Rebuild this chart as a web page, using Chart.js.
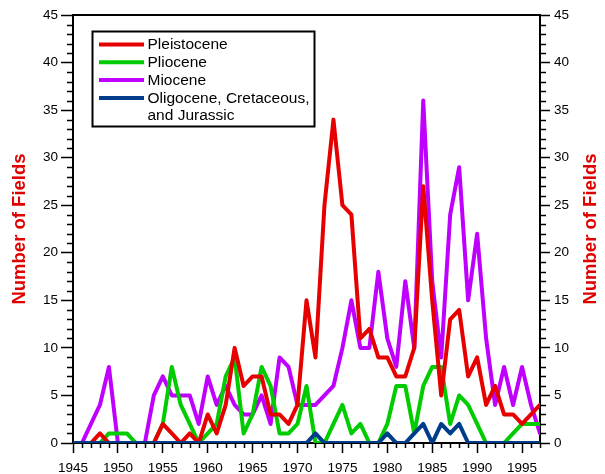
<!DOCTYPE html>
<html>
<head>
<meta charset="utf-8">
<script src="https://cdn.jsdelivr.net/npm/chart.js@4.4.1/dist/chart.umd.min.js"></script>
<style>
  html, body { margin: 0; padding: 0; background: #fff; }
  #wrap { width: 605px; height: 474px; }
</style>
</head>
<body>
<div id="wrap"><canvas id="fieldsChart" width="605" height="474"></canvas></div>
<script>
// ===== Data =====
const years = [1945, 1946, 1947, 1948, 1949, 1950, 1951, 1952, 1953, 1954,
               1955, 1956, 1957, 1958, 1959, 1960, 1961, 1962, 1963, 1964,
               1965, 1966, 1967, 1968, 1969, 1970, 1971, 1972, 1973, 1974,
               1975, 1976, 1977, 1978, 1979, 1980, 1981, 1982, 1983, 1984,
               1985, 1986, 1987, 1988, 1989, 1990, 1991, 1992, 1993, 1994,
               1995, 1996, 1997];

const pleistocene = [null, null, 0, 1, 0, 0, 0, 0, 0, 0,
                     2, 1, 0, 1, 0, 3, 1, 4, 10, 6,
                     7, 7, 3, 3, 2, 4, 15, 9, 25, 34,
                     25, 24, 11, 12, 9, 9, 7, 7, 10, 27,
                     15, 5, 13, 14, 7, 9, 4, 6, 3, 3,
                     2, 3, 4];

const pliocene = [null, null, null, 0, 1, 1, 1, 0, 0, 0,
                  2, 8, 4, 2, 0, 1, 2, 7, 9, 1,
                  3, 8, 6, 1, 1, 2, 6, 0, 0, 2,
                  4, 1, 2, 0, 0, 2, 6, 6, 1, 6,
                  8, 8, 2, 5, 4, 2, 0, 0, 0, 1,
                  2, 2, 2];

const miocene = [null, 0, 2, 4, 8, 0, 0, 0, 0, 5,
                 7, 5, 5, 5, 2, 7, 4, 6, 4, 3,
                 3, 5, 2, 9, 8, 4, 4, 4, 5, 6,
                 10, 15, 10, 10, 18, 11, 8, 17, 10, 36,
                 17, 9, 24, 29, 15, 22, 11, 4, 8, 4,
                 8, 4, 1];

const oligocene = [0, 0, 0, 0, 0, 0, 0, 0, 0, 0,
                   0, 0, 0, 0, 0, 0, 0, 0, 0, 0,
                   0, 0, 0, 0, 0, 0, 0, 1, 0, 0,
                   0, 0, 0, 0, 0, 1, 0, 0, 1, 2,
                   0, 2, 1, 2, 0, 0, 0, 0, 0, 0,
                   0, 0, 0];

const yTicks = [0, 5, 10, 15, 20, 25, 30, 35, 40, 45];
const xMin = 1945, xMax = 1997;

const FONT = "'Liberation Sans', Arial, Helvetica, sans-serif";

function toPoints(values) {
    return years.map((yr, i) => ({ x: yr, y: values[i] }));
}

// Extra drawing: frame top, minor ticks, titles and the boxed legend
const decorPlugin = {
    id: 'decor',
    afterDraw(chart) {
        const ctx = chart.ctx;
        const area = chart.chartArea;
        const xs = chart.scales.x;
        const yl = chart.scales.y;

        ctx.save();
        ctx.strokeStyle = '#000';

        // top border of the plot box
        ctx.lineWidth = 2;
        ctx.beginPath();
        ctx.moveTo(area.left - 1, area.top);
        ctx.lineTo(area.right + 1, area.top);
        ctx.stroke();

        // minor ticks
        ctx.lineWidth = 1.5;
        ctx.beginPath();
        for (let yr = xMin; yr <= xMax; yr++) {
            if (yr % 5 === 0) continue;
            const px = Math.round(xs.getPixelForValue(yr)) + 0.5;
            ctx.moveTo(px, area.bottom);
            ctx.lineTo(px, area.bottom + 5);
        }
        for (let v = 0; v <= 45; v++) {
            if (v % 5 === 0) continue;
            const py = Math.round(yl.getPixelForValue(v)) + 0.5;
            ctx.moveTo(area.left - 6, py);
            ctx.lineTo(area.left, py);
            ctx.moveTo(area.right, py);
            ctx.lineTo(area.right + 6, py);
        }
        ctx.stroke();

        // axis titles, both reading bottom to top
        const midY = (area.top + area.bottom) / 2;
        ctx.fillStyle = '#e00000';
        ctx.font = 'bold 18.5px ' + FONT;
        ctx.textAlign = 'center';
        ctx.textBaseline = 'middle';
        [20, 591].forEach(cx => {
            ctx.save();
            ctx.translate(cx, midY);
            ctx.rotate(-Math.PI / 2);
            ctx.fillText('Number of Fields', 0, 0);
            ctx.restore();
        });

        // legend box
        const box = { x: 92.5, y: 31.5, w: 222, h: 95 };
        ctx.fillStyle = '#fff';
        ctx.fillRect(box.x, box.y, box.w, box.h);
        ctx.lineWidth = 2;
        ctx.strokeStyle = '#000';
        ctx.strokeRect(box.x, box.y, box.w, box.h);

        ctx.font = '15.5px ' + FONT;
        ctx.textAlign = 'left';
        ctx.textBaseline = 'middle';
        let rowY = 44.5;
        chart.data.datasets.forEach(ds => {
            ctx.strokeStyle = ds.borderColor;
            ctx.lineWidth = 4;
            ctx.beginPath();
            ctx.moveTo(99, rowY);
            ctx.lineTo(144, rowY);
            ctx.stroke();
            ctx.fillStyle = '#000';
            ds.label.split('\n').forEach((line, k) => {
                ctx.fillText(line, 147.5, rowY + k * 17.8 + 0.5);
            });
            rowY += 17.8;
        });
        ctx.restore();
    }
};

const axisTicks = {
    color: '#000',
    font: { family: FONT, size: 13.5 }
};

new Chart(document.getElementById('fieldsChart'), {
    type: 'line',
    data: {
        datasets: [
            { label: 'Pleistocene', data: toPoints(pleistocene), borderColor: '#e60000', order: 1 },
            { label: 'Pliocene', data: toPoints(pliocene), borderColor: '#00cc00', order: 2 },
            { label: 'Miocene', data: toPoints(miocene), borderColor: '#bf00ff', order: 3 },
            { label: 'Oligocene, Cretaceous,\nand Jurassic', data: toPoints(oligocene), borderColor: '#003c8c', order: 0 }
        ]
    },
    options: {
        responsive: false,
        animation: false,
        devicePixelRatio: 1,
        layout: { padding: { top: 15, left: 0, right: 0, bottom: 0 } },
        elements: {
            line: { borderWidth: 4, tension: 0, fill: false, borderJoinStyle: 'round', borderCapStyle: 'round' },
            point: { radius: 0, hoverRadius: 0 }
        },
        plugins: {
            legend: { display: false },
            tooltip: { enabled: false }
        },
        scales: {
            x: {
                type: 'linear',
                min: xMin,
                max: xMax,
                afterFit: s => { s.height = 31; },
                ticks: { ...axisTicks, stepSize: 5, includeBounds: false, padding: 7, maxRotation: 0,
                         callback: v => String(v) },
                grid: { drawOnChartArea: false, tickLength: 10, tickWidth: 1.5, tickColor: '#000' },
                border: { color: '#000', width: 2 }
            },
            y: {
                position: 'left',
                min: 0,
                max: 45,
                afterFit: s => { s.width = 73; },
                afterBuildTicks: s => { s.ticks = yTicks.map(v => ({ value: v })); },
                ticks: { ...axisTicks, padding: 3 },
                grid: { drawOnChartArea: false, tickLength: 12, tickWidth: 1.5, tickColor: '#000' },
                border: { color: '#000', width: 2 }
            },
            y2: {
                position: 'right',
                min: 0,
                max: 45,
                afterFit: s => { s.width = 65; },
                afterBuildTicks: s => { s.ticks = yTicks.map(v => ({ value: v })); },
                ticks: { ...axisTicks, padding: 4 },
                grid: { drawOnChartArea: false, tickLength: 10, tickWidth: 1.5, tickColor: '#000' },
                border: { color: '#000', width: 2 }
            }
        }
    },
    plugins: [decorPlugin]
});
</script>
</body>
</html>
